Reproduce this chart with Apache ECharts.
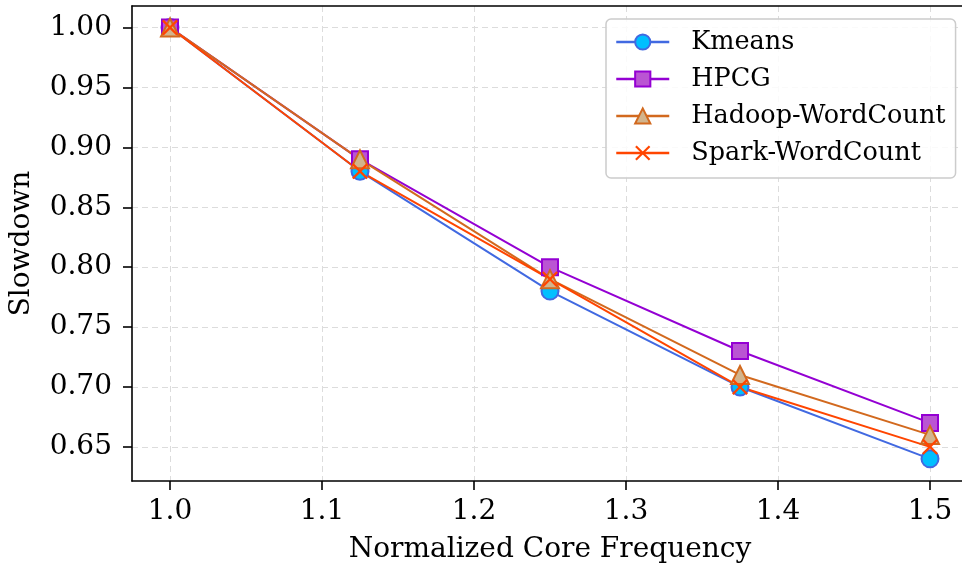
<!DOCTYPE html>
<html><head><meta charset="utf-8">
<script src="https://cdn.jsdelivr.net/npm/echarts@6/dist/echarts.min.js"></script>
<style>html,body{margin:0;padding:0;background:#fff}#c{width:962px;height:569px}</style>
</head><body><div id="c"></div>
<script>
const freqs = [1.0, 1.125, 1.25, 1.375, 1.5];
const kmeans = [1.00, 0.88, 0.78, 0.70, 0.64];
const hpcg = [1.00, 0.89, 0.80, 0.73, 0.67];
const hadoop = [1.00, 0.89, 0.79, 0.71, 0.66];
const spark = [1.00, 0.88, 0.79, 0.70, 0.65];
const xTicks = [1.0, 1.1, 1.2, 1.3, 1.4, 1.5];
const yTicks = [0.65, 0.70, 0.75, 0.80, 0.85, 0.90, 0.95, 1.00];

const FONT = 'DejaVu Serif';
const xPath = 'path://M1,0L5,4L9,0L10,1L6,5L10,9L9,10L5,6L1,10L0,9L4,5L0,1Z';
function pts(ys){ return freqs.map((x,i)=>[x, ys[i]]); }
function ser(name, ys, line, fill, symbol, size, extra){
  return Object.assign({
    name, type:'line', data: pts(ys), symbol, symbolSize: size,
    lineStyle:{color: line, width: 2},
    itemStyle:{color: fill, borderColor: line, borderWidth: 2},
    emphasis:{disabled:true}, animation:false
  }, extra||{});
}
const chart = echarts.init(document.getElementById('c'), null, {renderer:'canvas'});
chart.setOption({
  animation:false,
  grid:{left:132, top:6, width:836, height:475, outerBoundsMode:'none', containLabel:false, show:false},
  xAxis:[{type:'value', min:0.975, max:1.525,
    name:'Normalized Core Frequency', nameLocation:'middle', nameGap:55,
    nameTextStyle:{fontFamily:FONT, fontSize:28, color:'#000'},
    axisLine:{show:true, onZero:false, lineStyle:{color:'#000', width:1.6}},
    axisTick:{show:true, customValues:xTicks, length:9, lineStyle:{color:'#000', width:1.6}},
    axisLabel:{customValues:xTicks, fontFamily:FONT, fontSize:28, color:'#000', margin:17, formatter:v=>v.toFixed(1)},
    splitLine:{show:true, lineStyle:{color:'#dcdcdc', type:[6,4], width:1}}
  },{type:'value', position:'top', min:0.975, max:1.525,
    axisLine:{show:true, onZero:false, lineStyle:{color:'#000', width:1.6}},
    axisTick:{show:false}, axisLabel:{show:false}, splitLine:{show:false}
  }],
  yAxis:{type:'value', min:0.6215, max:1.018,
    name:'Slowdown', nameLocation:'middle', nameGap:96,
    nameTextStyle:{fontFamily:FONT, fontSize:28, color:'#000'},
    axisLine:{show:true, onZero:false, lineStyle:{color:'#000', width:1.6}},
    axisTick:{show:true, customValues:yTicks, length:9, lineStyle:{color:'#000', width:1.6}},
    axisLabel:{customValues:yTicks, fontFamily:FONT, fontSize:28, color:'#000', margin:20, formatter:v=>v.toFixed(2)},
    splitLine:{show:true, lineStyle:{color:'#dcdcdc', type:[6,4], width:1}}
  },
  legend:{orient:'vertical', left:606, top:19, padding:[9,10,11,9], itemGap:9,
    itemWidth:53, itemHeight:19,
    backgroundColor:'rgba(255,255,255,0.85)', borderColor:'#cccccc', borderWidth:1.5, borderRadius:5,
    lineStyle:{width:2.5},
    textStyle:{fontFamily:FONT, fontSize:25.5, lineHeight:28, color:'#000', padding:[0,0,0,17]},
    data:['Kmeans','HPCG','Hadoop-WordCount','Spark-WordCount']},
  series:[
    ser('Kmeans', kmeans, '#4169E1', '#00BFFF', 'circle', 17),
    ser('HPCG', hpcg, '#9400D3', '#BA55D3', 'rect', 16),
    ser('Hadoop-WordCount', hadoop, '#D2691E', '#D2B48C', 'triangle', 18),
    ser('Spark-WordCount', spark, '#FF4500', '#FF4500', xPath, 16, {itemStyle:{color:'#FF4500', borderColor:'#FF4500', borderWidth:0}})
  ]
});
</script></body></html>
